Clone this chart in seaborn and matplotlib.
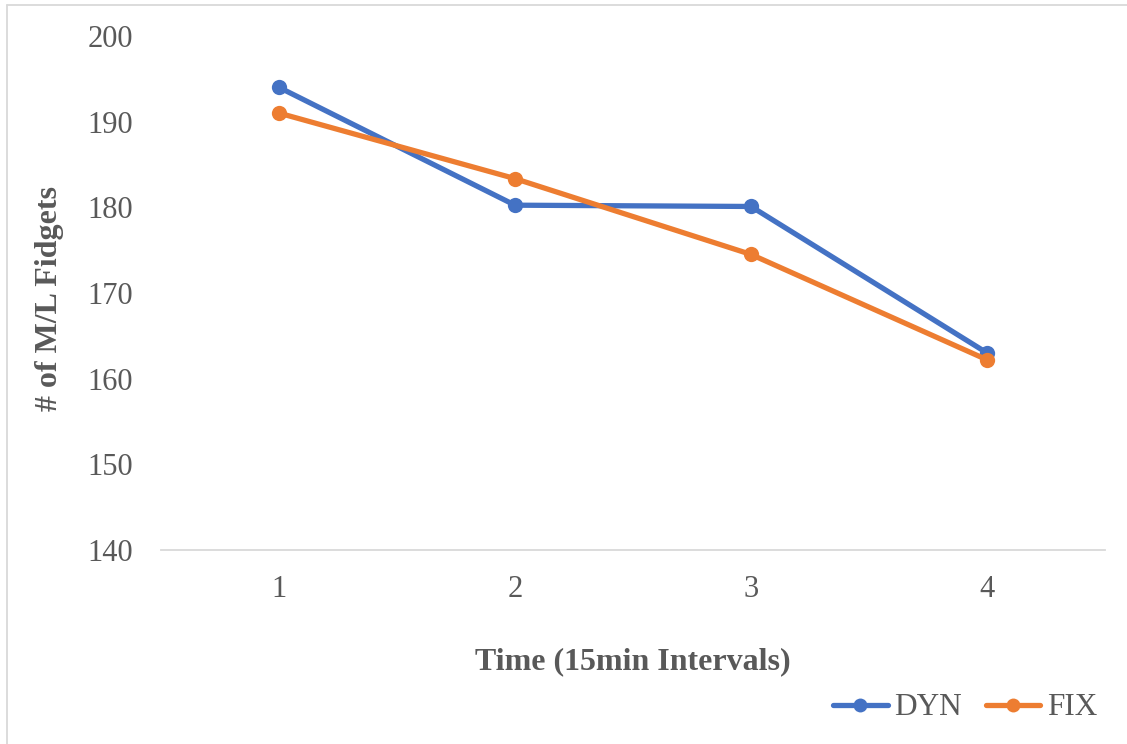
import matplotlib
matplotlib.use("Agg")
import matplotlib.pyplot as plt
from matplotlib.lines import Line2D
import seaborn as sns
import pandas as pd

# Fidget counts per 15-minute interval
intervals = [1, 2, 3, 4]
dyn_counts = [194, 180.25, 180.1, 163]
fix_counts = [191, 183.35, 174.5, 162.2]
series_names = ["DYN", "FIX"]
y_ticks = [140, 150, 160, 170, 180, 190, 200]

df = pd.DataFrame({
    "interval": intervals * 2,
    "count": dyn_counts + fix_counts,
    "series": [series_names[0]] * len(intervals) + [series_names[1]] * len(intervals),
})

sns.set_theme(style="white")
plt.rcParams["font.family"] = ["Liberation Serif", "DejaVu Serif"]

fig = plt.figure(figsize=(11.27, 7.44), dpi=100)
ax = fig.add_axes([0.1429, 0.2608, 0.8376, 0.6908])

palette = {"DYN": "#4472C4", "FIX": "#ED7D31"}
sns.lineplot(data=df, x="interval", y="count", hue="series", palette=palette,
             marker="o", markersize=11, markeredgewidth=0, linewidth=3.8,
             ax=ax, legend=False)

ax.set_xlim(0.5, 4.5)
ax.set_ylim(140, 200)
ax.set_xticks(intervals)
ax.set_xticklabels([str(i) for i in intervals])
ax.set_yticks(y_ticks)
ax.tick_params(axis="both", length=0, labelsize=22, labelcolor="#595959")
ax.tick_params(axis="x", pad=18)
ax.tick_params(axis="y", pad=20)

for s in ["top", "right", "left"]:
    ax.spines[s].set_visible(False)
ax.spines["bottom"].set_color("#d9d9d9")
ax.spines["bottom"].set_linewidth(1.3)

ax.set_xlabel("Time (15min Intervals)", fontsize=23, fontweight="bold", color="#595959")
ax.set_ylabel("# of M/L Fidgets", fontsize=23, fontweight="bold", color="#595959")
ax.xaxis.label.set_va("center")
ax.xaxis.set_label_coords(0.5, -0.218)
ax.yaxis.label.set_va("center")
ax.yaxis.set_label_coords(-0.118, 0.49)

# chart-area frame edges (top and left)
fig.add_artist(Line2D([0.0066, 1.0], [0.9939, 0.9939], transform=fig.transFigure,
                      color="#d9d9d9", linewidth=1.3))
fig.add_artist(Line2D([0.0066, 0.0066], [0.0, 0.9939], transform=fig.transFigure,
                      color="#d9d9d9", linewidth=1.3))

handles = [Line2D([], [], color=palette[n], marker="o", markersize=10,
                  markeredgewidth=0, linewidth=3.8) for n in series_names]
fig.legend(handles, series_names, loc="center right", bbox_to_anchor=(0.9734, 0.0484),
           ncol=2, frameon=False, fontsize=22.5, handlelength=1.75, handletextpad=0.2,
           columnspacing=0.77, borderpad=0, borderaxespad=0, labelcolor="#595959")

fig.savefig("out.png", dpi=100)
